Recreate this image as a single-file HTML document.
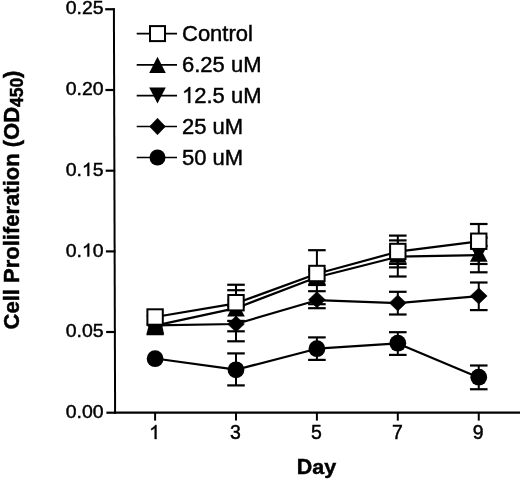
<!DOCTYPE html>
<html><head><meta charset="utf-8"><style>
html,body{margin:0;padding:0;background:#fff;}
svg{display:block;will-change:transform;}
text{font-family:"Liberation Sans",sans-serif;fill:#000;font-kerning:none;stroke:#000;stroke-width:0.45px;}
tspan[fill=none]{stroke:none;}
.tk{font-size:19.5px;}
.lg{font-size:22px;}
.ttl{font-size:21.5px;font-weight:bold;}
.ttl2{font-size:22px;font-weight:bold;}
.sub{font-size:17.4px;}
</style></head><body>
<svg width="520" height="480" viewBox="0 0 520 480">
<rect width="520" height="480" fill="#fff"/>
<line x1="113.9" y1="8.3" x2="115.1" y2="413.6" stroke="#000" stroke-width="2"/>
<line x1="114" y1="412.6" x2="520" y2="412.6" stroke="#000" stroke-width="2.2"/>
<line x1="105.20" y1="9.25" x2="114.70" y2="9.25" stroke="#000" stroke-width="2.2"/>
<text transform="translate(65.65,14.45) scale(1,0.9700)" font-size="19.5">0</text>
<text transform="translate(76.49,14.45) scale(1,0.9700)" font-size="19.5">.</text>
<text transform="translate(81.91,14.45) scale(1,0.9700)" font-size="19.5">2</text>
<text transform="translate(92.76,14.45) scale(1,0.9700)" font-size="19.5">5</text>
<line x1="105.44" y1="90.0" x2="114.94" y2="90.0" stroke="#000" stroke-width="2.2"/>
<text transform="translate(65.65,95.20) scale(1,0.9700)" font-size="19.5">0</text>
<text transform="translate(76.49,95.20) scale(1,0.9700)" font-size="19.5">.</text>
<text transform="translate(81.91,95.20) scale(1,0.9700)" font-size="19.5">2</text>
<text transform="translate(92.76,95.20) scale(1,0.9700)" font-size="19.5">0</text>
<line x1="105.68" y1="170.7" x2="115.18" y2="170.7" stroke="#000" stroke-width="2.2"/>
<text transform="translate(65.65,175.90) scale(1,0.9700)" font-size="19.5">0</text>
<text transform="translate(76.49,175.90) scale(1,0.9700)" font-size="19.5">.</text>
<path transform="translate(81.91,175.90) scale(0.009521,-0.008924)" d="M763 0H583V1147Q518 1085 412 1023Q306 961 222 930V1104Q373 1175 486 1276Q599 1377 646 1472H763Z" stroke="#000" stroke-width="0.45" vector-effect="non-scaling-stroke"/>
<text transform="translate(92.76,175.90) scale(1,0.9700)" font-size="19.5">5</text>
<line x1="105.92" y1="251.4" x2="115.42" y2="251.4" stroke="#000" stroke-width="2.2"/>
<text transform="translate(65.65,256.60) scale(1,0.9700)" font-size="19.5">0</text>
<text transform="translate(76.49,256.60) scale(1,0.9700)" font-size="19.5">.</text>
<path transform="translate(81.91,256.60) scale(0.009521,-0.008924)" d="M763 0H583V1147Q518 1085 412 1023Q306 961 222 930V1104Q373 1175 486 1276Q599 1377 646 1472H763Z" stroke="#000" stroke-width="0.45" vector-effect="non-scaling-stroke"/>
<text transform="translate(92.76,256.60) scale(1,0.9700)" font-size="19.5">0</text>
<line x1="106.16" y1="332.0" x2="115.66" y2="332.0" stroke="#000" stroke-width="2.2"/>
<text transform="translate(65.65,337.20) scale(1,0.9700)" font-size="19.5">0</text>
<text transform="translate(76.49,337.20) scale(1,0.9700)" font-size="19.5">.</text>
<text transform="translate(81.91,337.20) scale(1,0.9700)" font-size="19.5">0</text>
<text transform="translate(92.76,337.20) scale(1,0.9700)" font-size="19.5">5</text>
<line x1="106.40" y1="412.7" x2="115.90" y2="412.7" stroke="#000" stroke-width="2.2"/>
<text transform="translate(65.65,417.90) scale(1,0.9700)" font-size="19.5">0</text>
<text transform="translate(76.49,417.90) scale(1,0.9700)" font-size="19.5">.</text>
<text transform="translate(81.91,417.90) scale(1,0.9700)" font-size="19.5">0</text>
<text transform="translate(92.76,417.90) scale(1,0.9700)" font-size="19.5">0</text>
<line x1="155.1" y1="412" x2="155.1" y2="420.6" stroke="#000" stroke-width="2"/>
<path transform="translate(149.18,439.00) scale(0.009521,-0.009521)" d="M763 0H583V1147Q518 1085 412 1023Q306 961 222 930V1104Q373 1175 486 1276Q599 1377 646 1472H763Z" stroke="#000" stroke-width="0.45" vector-effect="non-scaling-stroke"/>
<line x1="236.0" y1="412" x2="236.0" y2="420.6" stroke="#000" stroke-width="2"/>
<text transform="translate(230.08,439.00) scale(1,1.0350)" font-size="19.5">3</text>
<line x1="316.9" y1="412" x2="316.9" y2="420.6" stroke="#000" stroke-width="2"/>
<text transform="translate(310.98,439.00) scale(1,1.0350)" font-size="19.5">5</text>
<line x1="397.8" y1="412" x2="397.8" y2="420.6" stroke="#000" stroke-width="2"/>
<text transform="translate(391.88,439.00) scale(1,1.0350)" font-size="19.5">7</text>
<line x1="478.75" y1="412" x2="478.75" y2="420.6" stroke="#000" stroke-width="2"/>
<text transform="translate(472.83,439.00) scale(1,1.0350)" font-size="19.5">9</text>
<text transform="translate(296.78,474.20) scale(1,1.0350)" font-size="21.5" font-weight="bold">D</text>
<text transform="translate(312.31,474.20) scale(1,0.9832)" font-size="21.5" font-weight="bold">a</text>
<text transform="translate(324.26,474.20) scale(1,0.9832)" font-size="21.5" font-weight="bold">y</text>
<text transform="translate(19.30,329.40) rotate(-90) scale(1,1.0350)" font-size="22" font-weight="bold">C</text>
<text transform="translate(19.30,313.51) rotate(-90) scale(1,0.9832)" font-size="22" font-weight="bold">e</text>
<text transform="translate(19.30,301.28) rotate(-90) scale(1,0.9832)" font-size="22" font-weight="bold">l</text>
<text transform="translate(19.30,295.16) rotate(-90) scale(1,0.9832)" font-size="22" font-weight="bold">l</text>
<text transform="translate(19.30,282.94) rotate(-90) scale(1,1.0350)" font-size="22" font-weight="bold">P</text>
<text transform="translate(19.30,268.27) rotate(-90) scale(1,0.9832)" font-size="22" font-weight="bold">r</text>
<text transform="translate(19.30,259.70) rotate(-90) scale(1,0.9832)" font-size="22" font-weight="bold">o</text>
<text transform="translate(19.30,246.27) rotate(-90) scale(1,0.9832)" font-size="22" font-weight="bold">l</text>
<text transform="translate(19.30,240.15) rotate(-90) scale(1,0.9832)" font-size="22" font-weight="bold">i</text>
<text transform="translate(19.30,234.04) rotate(-90) scale(1,0.9832)" font-size="22" font-weight="bold">f</text>
<text transform="translate(19.30,226.72) rotate(-90) scale(1,0.9832)" font-size="22" font-weight="bold">e</text>
<text transform="translate(19.30,214.48) rotate(-90) scale(1,0.9832)" font-size="22" font-weight="bold">r</text>
<text transform="translate(19.30,205.92) rotate(-90) scale(1,0.9832)" font-size="22" font-weight="bold">a</text>
<text transform="translate(19.30,193.68) rotate(-90) scale(1,0.9832)" font-size="22" font-weight="bold">t</text>
<text transform="translate(19.30,186.36) rotate(-90) scale(1,0.9832)" font-size="22" font-weight="bold">i</text>
<text transform="translate(19.30,180.24) rotate(-90) scale(1,0.9832)" font-size="22" font-weight="bold">o</text>
<text transform="translate(19.30,166.81) rotate(-90) scale(1,0.9832)" font-size="22" font-weight="bold">n</text>
<text transform="translate(19.30,147.26) rotate(-90) scale(1,1.0350)" font-size="22" font-weight="bold">(</text>
<text transform="translate(19.30,139.93) rotate(-90) scale(1,1.0350)" font-size="22" font-weight="bold">O</text>
<text transform="translate(19.30,122.82) rotate(-90) scale(1,1.0350)" font-size="22" font-weight="bold">D</text>
<text transform="translate(23.30,106.93) rotate(-90) scale(1,1.0350)" font-size="17.4" font-weight="bold">4</text>
<text transform="translate(23.30,97.25) rotate(-90) scale(1,1.0350)" font-size="17.4" font-weight="bold">5</text>
<text transform="translate(23.30,87.58) rotate(-90) scale(1,1.0350)" font-size="17.4" font-weight="bold">0</text>
<text transform="translate(19.30,77.90) rotate(-90) scale(1,1.0350)" font-size="22" font-weight="bold">)</text>
<polyline points="155.10,358.50 236.00,369.70 316.90,348.70 397.80,343.40 478.75,377.40" fill="none" stroke="#000" stroke-width="2.2" stroke-linejoin="round"/>
<polyline points="155.10,325.40 236.00,324.00 316.90,300.20 397.80,303.10 478.75,296.20" fill="none" stroke="#000" stroke-width="2.2" stroke-linejoin="round"/>
<polyline points="155.10,325.70 236.00,308.20 316.90,277.20 397.80,256.70 478.75,255.20" fill="none" stroke="#000" stroke-width="2.2" stroke-linejoin="round"/>
<polyline points="155.10,317.00 236.00,303.30 316.90,273.70 397.80,251.70 478.75,241.45" fill="none" stroke="#000" stroke-width="2.2" stroke-linejoin="round"/>
<line x1="236.00" y1="369.80" x2="236.00" y2="353.40" stroke="#000" stroke-width="2"/>
<line x1="227.20" y1="353.40" x2="244.80" y2="353.40" stroke="#000" stroke-width="2.2"/>
<line x1="236.00" y1="369.80" x2="236.00" y2="385.40" stroke="#000" stroke-width="2"/>
<line x1="227.20" y1="385.40" x2="244.80" y2="385.40" stroke="#000" stroke-width="2.2"/>
<line x1="316.90" y1="348.70" x2="316.90" y2="337.40" stroke="#000" stroke-width="2"/>
<line x1="308.10" y1="337.40" x2="325.70" y2="337.40" stroke="#000" stroke-width="2.2"/>
<line x1="316.90" y1="348.70" x2="316.90" y2="359.90" stroke="#000" stroke-width="2"/>
<line x1="308.10" y1="359.90" x2="325.70" y2="359.90" stroke="#000" stroke-width="2.2"/>
<line x1="397.80" y1="343.20" x2="397.80" y2="332.20" stroke="#000" stroke-width="2"/>
<line x1="389.00" y1="332.20" x2="406.60" y2="332.20" stroke="#000" stroke-width="2.2"/>
<line x1="397.80" y1="343.20" x2="397.80" y2="354.90" stroke="#000" stroke-width="2"/>
<line x1="389.00" y1="354.90" x2="406.60" y2="354.90" stroke="#000" stroke-width="2.2"/>
<line x1="478.75" y1="377.20" x2="478.75" y2="365.50" stroke="#000" stroke-width="2"/>
<line x1="469.95" y1="365.50" x2="487.55" y2="365.50" stroke="#000" stroke-width="2.2"/>
<line x1="478.75" y1="377.20" x2="478.75" y2="389.25" stroke="#000" stroke-width="2"/>
<line x1="469.95" y1="389.25" x2="487.55" y2="389.25" stroke="#000" stroke-width="2.2"/>
<line x1="236.00" y1="324.00" x2="236.00" y2="306.30" stroke="#000" stroke-width="2"/>
<line x1="227.20" y1="306.30" x2="244.80" y2="306.30" stroke="#000" stroke-width="2.2"/>
<line x1="236.00" y1="324.00" x2="236.00" y2="341.30" stroke="#000" stroke-width="2"/>
<line x1="227.20" y1="341.30" x2="244.80" y2="341.30" stroke="#000" stroke-width="2.2"/>
<line x1="316.90" y1="299.80" x2="316.90" y2="291.20" stroke="#000" stroke-width="2"/>
<line x1="308.10" y1="291.20" x2="325.70" y2="291.20" stroke="#000" stroke-width="2.2"/>
<line x1="316.90" y1="299.80" x2="316.90" y2="308.20" stroke="#000" stroke-width="2"/>
<line x1="308.10" y1="308.20" x2="325.70" y2="308.20" stroke="#000" stroke-width="2.2"/>
<line x1="397.80" y1="302.90" x2="397.80" y2="291.80" stroke="#000" stroke-width="2"/>
<line x1="389.00" y1="291.80" x2="406.60" y2="291.80" stroke="#000" stroke-width="2.2"/>
<line x1="397.80" y1="302.90" x2="397.80" y2="314.50" stroke="#000" stroke-width="2"/>
<line x1="389.00" y1="314.50" x2="406.60" y2="314.50" stroke="#000" stroke-width="2.2"/>
<line x1="478.75" y1="296.00" x2="478.75" y2="282.50" stroke="#000" stroke-width="2"/>
<line x1="469.95" y1="282.50" x2="487.55" y2="282.50" stroke="#000" stroke-width="2.2"/>
<line x1="478.75" y1="296.00" x2="478.75" y2="310.10" stroke="#000" stroke-width="2"/>
<line x1="469.95" y1="310.10" x2="487.55" y2="310.10" stroke="#000" stroke-width="2.2"/>
<line x1="236.00" y1="308.00" x2="236.00" y2="290.20" stroke="#000" stroke-width="2"/>
<line x1="227.20" y1="290.20" x2="244.80" y2="290.20" stroke="#000" stroke-width="2.2"/>
<line x1="236.00" y1="308.00" x2="236.00" y2="320.90" stroke="#000" stroke-width="2"/>
<line x1="227.20" y1="320.90" x2="244.80" y2="320.90" stroke="#000" stroke-width="2.2"/>
<line x1="316.90" y1="277.00" x2="316.90" y2="269.50" stroke="#000" stroke-width="2"/>
<line x1="308.10" y1="269.50" x2="325.70" y2="269.50" stroke="#000" stroke-width="2.2"/>
<line x1="316.90" y1="277.00" x2="316.90" y2="285.00" stroke="#000" stroke-width="2"/>
<line x1="308.10" y1="285.00" x2="325.70" y2="285.00" stroke="#000" stroke-width="2.2"/>
<line x1="397.80" y1="254.50" x2="397.80" y2="240.40" stroke="#000" stroke-width="2"/>
<line x1="389.00" y1="240.40" x2="406.60" y2="240.40" stroke="#000" stroke-width="2.2"/>
<line x1="397.80" y1="254.50" x2="397.80" y2="267.40" stroke="#000" stroke-width="2"/>
<line x1="389.00" y1="267.40" x2="406.60" y2="267.40" stroke="#000" stroke-width="2.2"/>
<line x1="478.75" y1="255.00" x2="478.75" y2="246.00" stroke="#000" stroke-width="2"/>
<line x1="469.95" y1="246.00" x2="487.55" y2="246.00" stroke="#000" stroke-width="2.2"/>
<line x1="478.75" y1="255.00" x2="478.75" y2="264.00" stroke="#000" stroke-width="2"/>
<line x1="469.95" y1="264.00" x2="487.55" y2="264.00" stroke="#000" stroke-width="2.2"/>
<line x1="236.00" y1="307.30" x2="236.00" y2="284.75" stroke="#000" stroke-width="2"/>
<line x1="227.20" y1="284.75" x2="244.80" y2="284.75" stroke="#000" stroke-width="2.2"/>
<line x1="236.00" y1="307.30" x2="236.00" y2="331.30" stroke="#000" stroke-width="2"/>
<line x1="227.20" y1="331.30" x2="244.80" y2="331.30" stroke="#000" stroke-width="2.2"/>
<line x1="316.90" y1="277.00" x2="316.90" y2="250.20" stroke="#000" stroke-width="2"/>
<line x1="308.10" y1="250.20" x2="325.70" y2="250.20" stroke="#000" stroke-width="2.2"/>
<line x1="316.90" y1="277.00" x2="316.90" y2="304.20" stroke="#000" stroke-width="2"/>
<line x1="308.10" y1="304.20" x2="325.70" y2="304.20" stroke="#000" stroke-width="2.2"/>
<line x1="397.80" y1="256.00" x2="397.80" y2="235.60" stroke="#000" stroke-width="2"/>
<line x1="389.00" y1="235.60" x2="406.60" y2="235.60" stroke="#000" stroke-width="2.2"/>
<line x1="397.80" y1="256.00" x2="397.80" y2="276.50" stroke="#000" stroke-width="2"/>
<line x1="389.00" y1="276.50" x2="406.60" y2="276.50" stroke="#000" stroke-width="2.2"/>
<line x1="478.75" y1="255.00" x2="478.75" y2="237.70" stroke="#000" stroke-width="2"/>
<line x1="469.95" y1="237.70" x2="487.55" y2="237.70" stroke="#000" stroke-width="2.2"/>
<line x1="478.75" y1="255.00" x2="478.75" y2="272.30" stroke="#000" stroke-width="2"/>
<line x1="469.95" y1="272.30" x2="487.55" y2="272.30" stroke="#000" stroke-width="2.2"/>
<line x1="397.80" y1="251.50" x2="397.80" y2="263.90" stroke="#000" stroke-width="2"/>
<line x1="389.00" y1="263.90" x2="406.60" y2="263.90" stroke="#000" stroke-width="2.2"/>
<line x1="478.75" y1="241.25" x2="478.75" y2="224.00" stroke="#000" stroke-width="2"/>
<line x1="469.95" y1="224.00" x2="487.55" y2="224.00" stroke="#000" stroke-width="2.2"/>
<circle cx="155.10" cy="358.70" r="8.4" fill="#000"/>
<circle cx="236.00" cy="369.80" r="8.4" fill="#000"/>
<circle cx="316.90" cy="348.70" r="8.4" fill="#000"/>
<circle cx="397.80" cy="343.20" r="8.4" fill="#000"/>
<circle cx="478.75" cy="377.20" r="8.4" fill="#000"/>
<polygon points="155.10,317.10 163.50,325.10 155.10,333.10 146.70,325.10" fill="#000" stroke="#000" stroke-width="0.6" stroke-linejoin="round"/>
<polygon points="236.00,316.00 244.40,324.00 236.00,332.00 227.60,324.00" fill="#000" stroke="#000" stroke-width="0.6" stroke-linejoin="round"/>
<polygon points="316.90,291.80 325.30,299.80 316.90,307.80 308.50,299.80" fill="#000" stroke="#000" stroke-width="0.6" stroke-linejoin="round"/>
<polygon points="397.80,294.90 406.20,302.90 397.80,310.90 389.40,302.90" fill="#000" stroke="#000" stroke-width="0.6" stroke-linejoin="round"/>
<polygon points="478.75,288.00 487.15,296.00 478.75,304.00 470.35,296.00" fill="#000" stroke="#000" stroke-width="0.6" stroke-linejoin="round"/>
<polygon points="146.30,315.20 163.90,315.20 155.10,331.80" fill="#000"/>
<polygon points="227.20,299.70 244.80,299.70 236.00,316.30" fill="#000"/>
<polygon points="308.10,268.70 325.70,268.70 316.90,285.30" fill="#000"/>
<polygon points="389.00,246.20 406.60,246.20 397.80,262.80" fill="#000"/>
<polygon points="469.95,245.20 487.55,245.20 478.75,261.80" fill="#000"/>
<polygon points="155.10,318.60 163.90,335.20 146.30,335.20" fill="#000"/>
<polygon points="236.00,299.90 244.80,316.50 227.20,316.50" fill="#000"/>
<polygon points="316.90,267.60 325.70,284.20 308.10,284.20" fill="#000"/>
<polygon points="397.80,246.20 406.60,262.80 389.00,262.80" fill="#000"/>
<polygon points="478.75,245.20 487.55,261.80 469.95,261.80" fill="#000"/>
<polygon points="149.4,323 161.6,323 164.2,334.6 146.3,334.6" fill="#000"/>
<rect x="147.40" y="309.30" width="15.40" height="15.40" fill="#fff" stroke="#000" stroke-width="2"/>
<rect x="228.30" y="295.00" width="15.40" height="15.40" fill="#fff" stroke="#000" stroke-width="2"/>
<rect x="309.20" y="265.80" width="15.40" height="15.40" fill="#fff" stroke="#000" stroke-width="2"/>
<rect x="390.10" y="243.80" width="15.40" height="15.40" fill="#fff" stroke="#000" stroke-width="2"/>
<rect x="471.05" y="233.55" width="15.40" height="15.40" fill="#fff" stroke="#000" stroke-width="2"/>
<line x1="136.7" y1="33.6" x2="177" y2="33.6" stroke="#000" stroke-width="1.7"/>
<rect x="150.00" y="26.10" width="15.00" height="15.00" fill="#fff" stroke="#000" stroke-width="2"/>
<text transform="translate(182.00,40.90) scale(1,1.0350)" font-size="22">C</text>
<text transform="translate(197.89,40.90) scale(1,0.9832)" font-size="22">o</text>
<text transform="translate(210.12,40.90) scale(1,0.9832)" font-size="22">n</text>
<text transform="translate(222.36,40.90) scale(1,0.9832)" font-size="22">t</text>
<text transform="translate(228.47,40.90) scale(1,0.9832)" font-size="22">r</text>
<text transform="translate(235.80,40.90) scale(1,0.9832)" font-size="22">o</text>
<text transform="translate(248.03,40.90) scale(1,0.9832)" font-size="22">l</text>
<line x1="136.7" y1="64.8" x2="177" y2="64.8" stroke="#000" stroke-width="1.7"/>
<polygon points="157.50,56.70 165.80,72.90 149.20,72.90" fill="#000"/>
<text transform="translate(182.00,72.10) scale(1,1.0350)" font-size="22">6</text>
<text transform="translate(194.24,72.10) scale(1,1.0350)" font-size="22">.</text>
<text transform="translate(200.35,72.10) scale(1,1.0350)" font-size="22">2</text>
<text transform="translate(212.58,72.10) scale(1,1.0350)" font-size="22">5</text>
<text transform="translate(230.93,72.10) scale(1,0.9832)" font-size="22">u</text>
<text transform="translate(243.17,72.10) scale(1,1.0350)" font-size="22">M</text>
<line x1="136.7" y1="95.6" x2="177" y2="95.6" stroke="#000" stroke-width="1.7"/>
<polygon points="149.20,87.60 165.80,87.60 157.50,103.60" fill="#000"/>
<path transform="translate(182.00,102.90) scale(0.010742,-0.010742)" d="M763 0H583V1147Q518 1085 412 1023Q306 961 222 930V1104Q373 1175 486 1276Q599 1377 646 1472H763Z" stroke="#000" stroke-width="0.45" vector-effect="non-scaling-stroke"/>
<text transform="translate(194.24,102.90) scale(1,1.0350)" font-size="22">2</text>
<text transform="translate(206.47,102.90) scale(1,1.0350)" font-size="22">.</text>
<text transform="translate(212.58,102.90) scale(1,1.0350)" font-size="22">5</text>
<text transform="translate(230.93,102.90) scale(1,0.9832)" font-size="22">u</text>
<text transform="translate(243.17,102.90) scale(1,1.0350)" font-size="22">M</text>
<line x1="136.7" y1="126.5" x2="177" y2="126.5" stroke="#000" stroke-width="1.7"/>
<polygon points="157.50,118.20 165.40,126.50 157.50,134.80 149.60,126.50" fill="#000" stroke="#000" stroke-width="0.6" stroke-linejoin="round"/>
<text transform="translate(182.00,133.80) scale(1,1.0350)" font-size="22">2</text>
<text transform="translate(194.24,133.80) scale(1,1.0350)" font-size="22">5</text>
<text transform="translate(212.58,133.80) scale(1,0.9832)" font-size="22">u</text>
<text transform="translate(224.82,133.80) scale(1,1.0350)" font-size="22">M</text>
<line x1="136.7" y1="157.5" x2="177" y2="157.5" stroke="#000" stroke-width="1.7"/>
<circle cx="157.50" cy="157.50" r="8.0" fill="#000"/>
<text transform="translate(182.00,164.80) scale(1,1.0350)" font-size="22">5</text>
<text transform="translate(194.24,164.80) scale(1,1.0350)" font-size="22">0</text>
<text transform="translate(212.58,164.80) scale(1,0.9832)" font-size="22">u</text>
<text transform="translate(224.82,164.80) scale(1,1.0350)" font-size="22">M</text>
</svg>
</body></html>
